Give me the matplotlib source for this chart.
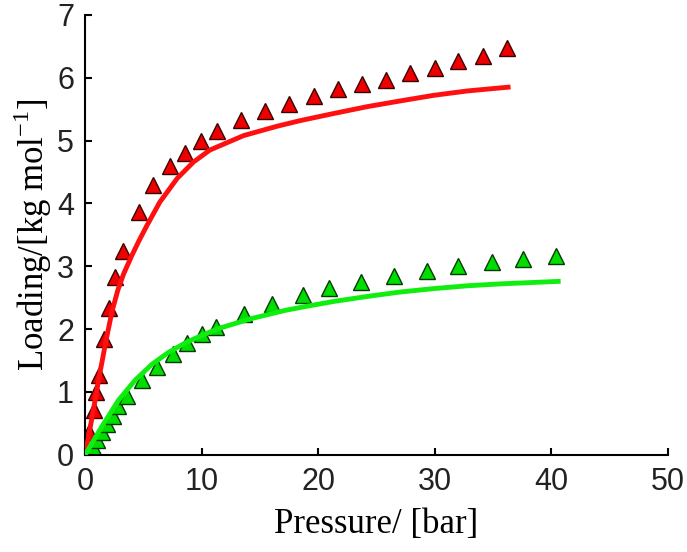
import matplotlib
matplotlib.use('Agg')
import matplotlib.pyplot as plt

# measured points (red series)
red_p = [0.0, 0.3, 0.75, 0.95, 1.15, 1.6, 2.05, 2.6, 3.28, 4.58, 5.86, 7.24, 8.58, 9.93,
         11.3, 13.4, 15.45, 17.5, 19.6, 21.7, 23.75, 25.8, 27.9, 30.0, 32.0, 34.1, 36.2]
red_q = [0.06, 0.37, 0.72, 1.0, 1.27, 1.85, 2.34, 2.83, 3.24, 3.86, 4.30, 4.59, 4.80, 5.0,
         5.15, 5.32, 5.47, 5.58, 5.71, 5.82, 5.90, 5.96, 6.07, 6.16, 6.26, 6.35, 6.47]

# measured points (green series)
green_p = [0.2, 0.65, 1.05, 1.45, 1.9, 2.35, 2.85, 3.6, 4.9, 6.2, 7.5, 8.75, 10.0, 11.2,
           13.6, 16.0, 18.7, 20.9, 23.7, 26.5, 29.3, 32.0, 34.9, 37.6, 40.4]
green_q = [0.03, 0.13, 0.24, 0.36, 0.49, 0.62, 0.78, 0.94, 1.19, 1.40, 1.61, 1.78, 1.92, 2.03,
           2.24, 2.40, 2.54, 2.65, 2.75, 2.84, 2.92, 3.00, 3.07, 3.12, 3.17]

# model curves
red_fit_p = [0, 0.7, 1.2, 1.8, 2.3, 2.8, 3.3, 4.0, 4.6, 5.3, 6.4, 7.9, 9.3, 10.7, 13.6,
             16.5, 18.5, 21.3, 24.2, 27.0, 29.9, 32.8, 36.3]
red_fit_q = [0, 0.71, 1.24, 1.83, 2.28, 2.62, 2.88, 3.17, 3.40, 3.65, 4.02, 4.40, 4.66, 4.85,
             5.08, 5.23, 5.32, 5.43, 5.54, 5.63, 5.72, 5.79, 5.85]

green_fit_p = [0, 1.43, 2.86, 4.3, 5.72, 7.15, 8.58, 10.0, 11.44, 14.3, 17.2, 18.9, 21.3,
               24.2, 27.0, 29.9, 32.8, 35.6, 40.6]
green_fit_q = [0, 0.45, 0.87, 1.19, 1.44, 1.63, 1.78, 1.90, 2.01, 2.17, 2.30, 2.36, 2.44,
               2.52, 2.59, 2.645, 2.69, 2.72, 2.76]

fig = plt.figure(figsize=(6.87, 5.52), dpi=100)
ax = fig.add_axes([0.124, 0.176, 0.848, 0.797])

ax.plot(red_p, red_q, '^', ms=11, mfc='#ee0000', mec='#3a0000', mew=1, zorder=2)
ax.plot(green_p, green_q, '^', ms=11, mfc='#00dd00', mec='#003a00', mew=1, zorder=2)
ax.plot(red_fit_p, red_fit_q, '-', color='#ff1010', lw=3.5, zorder=3)
ax.plot(green_fit_p, green_fit_q, '-', color='#10ee10', lw=3.5, zorder=3)

ax.set_xlim(0, 50)
ax.set_ylim(0, 7)
ax.set_xticks([0, 10, 20, 30, 40, 50])
ax.set_yticks(range(0, 8))
ax.spines['top'].set_visible(False)
ax.spines['right'].set_visible(False)
ax.spines['left'].set_linewidth(1.5)
ax.spines['bottom'].set_linewidth(1.5)
ax.tick_params(direction='in', length=5, width=1.5, labelsize=22)
ax.tick_params(axis='x', pad=9)
ax.tick_params(axis='y', pad=8)
for lbl in ax.get_xticklabels() + ax.get_yticklabels():
    lbl.set_fontfamily('Liberation Sans')
    lbl.set_color('#222222')

ax.set_xlabel('Pressure/ [bar]', fontfamily='Liberation Serif', fontsize=25, labelpad=8)
ax.set_ylabel(r'Loading/[kg mol$^{\mathregular{-1}}$]', fontfamily='Liberation Serif',
              fontsize=25, labelpad=2)

fig.savefig('out.png', dpi=100)
